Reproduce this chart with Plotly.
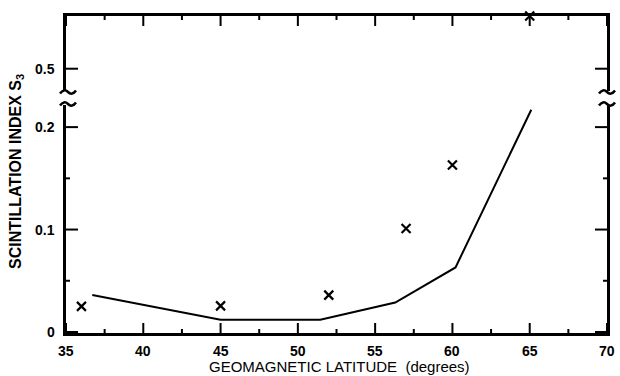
import plotly.graph_objects as go

# Data
line_lat = [36.7, 45.0, 51.45, 56.3, 60.2, 65.1]
line_s3 = [0.036, 0.012, 0.012, 0.0287, 0.063, 0.217]
pt_lat = [36.0, 45.0, 52.0, 57.0, 60.0]
pt_s3 = [0.025, 0.0255, 0.036, 0.101, 0.163]
hi_lat = [65.0]
hi_s3 = [0.6]
x_ticks = [35, 40, 45, 50, 55, 60, 65, 70]
x_minor = [37.5, 42.5, 47.5, 52.5, 57.5, 62.5, 67.5]
y_lo_ticks = [0, 0.1, 0.2]
y_lo_labels = ["0", "0.1", "0.2"]
y_lo_minor = [0.05, 0.15]
y_hi_ticks = [0.5]
y_hi_labels = ["0.5"]

W, H = 620, 376
L, R, T, B = 66, 13, 16, 43
PX0, PX1 = L, W - R
PY0, PY1 = T, H - B


def px(x):
    return (x - PX0) / (PX1 - PX0)


def py(y):
    return (PY1 - y) / (PY1 - PY0)


lo_top = 105
hi_bot = 91
lo_dom = [0, py(lo_top)]
hi_dom = [py(hi_bot), 1]
X_RANGE = [35, 70]
Y_LO_RANGE = [-0.001, 0.2216]
Y_HI_RANGE = [0.4577, 0.6]

FONT = "Liberation Sans, Arial, sans-serif"
fig = go.Figure()

# tick marks drawn through the axes' own scales (lengths given in pixels)
x_per_px = (X_RANGE[1] - X_RANGE[0]) / (PX1 - PX0)
ylo_per_px = (Y_LO_RANGE[1] - Y_LO_RANGE[0]) / (PY1 - lo_top)
yhi_per_px = (Y_HI_RANGE[1] - Y_HI_RANGE[0]) / (hi_bot - PY0)


def seg_x(vals, ybase, dy):
    xs, ys = [], []
    for v in vals:
        xs += [v, v, None]
        ys += [ybase, ybase + dy, None]
    return xs, ys


def seg_y(vals, ln):
    xs, ys = [], []
    for v in vals:
        xs += [X_RANGE[0], X_RANGE[0] + ln * x_per_px, None,
               X_RANGE[1], X_RANGE[1] - ln * x_per_px, None]
        ys += [v, v, None, v, v, None]
    return xs, ys


tick_line = dict(color="black", width=2)
for vals, ln in ((x_ticks, 10), (x_minor, 4)):
    xs, ys = seg_x(vals, Y_LO_RANGE[0], ln * ylo_per_px)
    fig.add_trace(go.Scatter(x=xs, y=ys, mode="lines", line=tick_line, xaxis="x", yaxis="y",
                             showlegend=False, hoverinfo="skip"))
    xs, ys = seg_x(vals, Y_HI_RANGE[1], -ln * yhi_per_px)
    fig.add_trace(go.Scatter(x=xs, y=ys, mode="lines", line=tick_line, xaxis="x2", yaxis="y2",
                             showlegend=False, hoverinfo="skip"))
for vals, ln, ya in ((y_lo_ticks, 12, "y"), (y_lo_minor, 4, "y"), (y_hi_ticks, 12, "y2")):
    xs, ys = seg_y(vals, ln)
    fig.add_trace(go.Scatter(x=xs, y=ys, mode="lines", line=tick_line,
                             xaxis="x" if ya == "y" else "x2", yaxis=ya,
                             showlegend=False, hoverinfo="skip"))

fig.add_trace(go.Scatter(x=line_lat, y=line_s3, mode="lines",
                         line=dict(color="black", width=2), xaxis="x", yaxis="y",
                         showlegend=False))
fig.add_trace(go.Scatter(x=pt_lat, y=pt_s3, mode="markers",
                         marker=dict(symbol="x-thin", size=9, line=dict(color="black", width=2.2)),
                         xaxis="x", yaxis="y", showlegend=False, cliponaxis=False))
fig.add_trace(go.Scatter(x=hi_lat, y=hi_s3, mode="markers",
                         marker=dict(symbol="x-thin", size=9, line=dict(color="black", width=2.2)),
                         xaxis="x2", yaxis="y2", showlegend=False, cliponaxis=False))

common_x = dict(range=X_RANGE, showline=True, linewidth=3, linecolor="black",
                ticks="", showticklabels=False, showgrid=False,
                zeroline=False, automargin=False)
common_y = dict(showline=True, linewidth=3, linecolor="black", mirror=True, ticks="",
                showticklabels=False, showgrid=False, zeroline=False, automargin=False)
fig.update_layout(
    width=W, height=H,
    margin=dict(l=L, r=R, t=T, b=B),
    paper_bgcolor="white", plot_bgcolor="rgba(0,0,0,0)",
    xaxis=dict(**common_x, anchor="y"),
    xaxis2=dict(**common_x, anchor="y2", side="top", matches="x"),
    yaxis=dict(**common_y, domain=lo_dom, range=Y_LO_RANGE),
    yaxis2=dict(**common_y, domain=hi_dom, range=Y_HI_RANGE),
)

# tick labels placed through the axes' scales
tickfont = dict(family=FONT, size=14, color="black", weight="bold")
for v in x_ticks:
    fig.add_annotation(text=str(v), xref="x", yref="paper", x=v, y=0, yanchor="top",
                       xanchor="center", yshift=-8, showarrow=False, font=tickfont)
for vals, labels, yref in ((y_lo_ticks, y_lo_labels, "y"), (y_hi_ticks, y_hi_labels, "y2")):
    for v, t in zip(vals, labels):
        fig.add_annotation(text=t, xref="paper", yref=yref, x=0, y=v, xanchor="right",
                           yanchor="middle", xshift=-9, showarrow=False, font=tickfont)

# axis titles
fig.add_annotation(text="GEOMAGNETIC LATITUDE  (degrees)", xref="paper", yref="paper",
                   x=px(339), y=py(366), yanchor="middle", xanchor="center", showarrow=False,
                   font=dict(family=FONT, size=15, color="black"))
fig.add_annotation(text="SCINTILLATION INDEX S<sub>3</sub>", xref="paper", yref="paper",
                   x=px(16), y=py(172), xanchor="center", yanchor="middle",
                   showarrow=False, textangle=-90,
                   font=dict(family=FONT, size=16, color="black", weight="bold"))


# axis break squiggles
def squiggle(cx, cy):
    w, h = 8, 4
    pts = [(cx - w, cy + h * 0.4), (cx - w * 0.5, cy - h), (cx, cy),
           (cx + w * 0.5, cy + h), (cx + w, cy - h * 0.4)]
    (x0, y0), (x1, y1), (x2, y2), (x3, y3), (x4, y4) = pts
    return (f"M {px(x0)},{py(y0)} Q {px(x1)},{py(y1)} {px(x2)},{py(y2)} "
            f"Q {px(x3)},{py(y3)} {px(x4)},{py(y4)}")


for cx in (PX0 + 2, PX1):
    for cy in (hi_bot + 1, lo_top - 1):
        fig.add_shape(type="path", path=squiggle(cx, cy), xref="paper", yref="paper",
                      line=dict(color="black", width=2.5))

fig.write_html("out.html")
